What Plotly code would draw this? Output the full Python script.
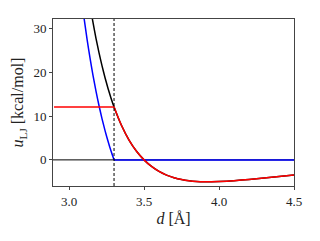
import plotly.graph_objects as go

# distances (Å) for the full LJ curve (black)
d = [3.05, 3.08, 3.10, 3.12, 3.14, 3.16, 3.18, 3.20, 3.22, 3.24, 3.26, 3.28, 3.30,
     3.35, 3.40, 3.45, 3.50, 3.55, 3.60, 3.65, 3.70, 3.75, 3.80, 3.85, 3.90, 3.95,
     4.00, 4.10, 4.20, 4.30, 4.40, 4.50]
u_full = [58.61, 49.67, 44.38, 39.58, 35.21, 31.25, 27.65, 24.38, 21.41, 18.72, 16.28, 14.06, 12.05,
          7.82, 4.52, 1.97, 0.0, -1.50, -2.63, -3.46, -4.06, -4.48, -4.76, -4.92, -4.99, -4.99,
          -4.95, -4.74, -4.45, -4.12, -3.78, -3.45]
# capped LJ (red): flat cap then LJ tail
d_cap_flat = [2.90, 3.30]
u_cap_flat = [12.05, 12.05]
d_cap = [3.30, 3.35, 3.40, 3.45, 3.50, 3.55, 3.60, 3.65, 3.70, 3.75, 3.80, 3.85, 3.90,
         3.95, 4.00, 4.10, 4.20, 4.30, 4.40, 4.50]
u_cap = [12.05, 7.82, 4.52, 1.97, 0.0, -1.50, -2.63, -3.46, -4.06, -4.48, -4.76, -4.92,
         -4.99, -4.99, -4.95, -4.74, -4.45, -4.12, -3.78, -3.45]
# shifted repulsive part (blue)
d_rep = [3.05, 3.08, 3.10, 3.12, 3.14, 3.16, 3.18, 3.20, 3.22, 3.24, 3.26, 3.28, 3.30]
u_rep = [46.56, 37.62, 32.33, 27.53, 23.16, 19.20, 15.60, 12.33, 9.36, 6.67, 4.23, 2.01, 0.0]
d_rep_flat = [3.30, 4.50]
u_rep_flat = [0.0, 0.0]

d_cut = 3.3
x_ticks = [3.0, 3.5, 4.0, 4.5]
y_ticks = [0, 10, 20, 30]

fig = go.Figure()
spl = dict(width=1.5, shape="spline", smoothing=0.6)
fig.add_trace(go.Scatter(x=d, y=u_full, mode="lines", line=dict(color="black", **spl)))
fig.add_trace(go.Scatter(x=d_rep, y=u_rep, mode="lines", line=dict(color="blue", **spl)))
fig.add_trace(go.Scatter(x=d_rep_flat, y=u_rep_flat, mode="lines", line=dict(color="blue", width=1.5)))
fig.add_trace(go.Scatter(x=d_cap_flat, y=u_cap_flat, mode="lines", line=dict(color="red", width=1.5)))
fig.add_trace(go.Scatter(x=d_cap, y=u_cap, mode="lines", line=dict(color="red", **spl)))

fig.add_shape(type="line", xref="paper", yref="y", x0=0, x1=1, y0=0, y1=0,
              line=dict(color="black", width=1), layer="below")
fig.add_shape(type="line", xref="x", yref="paper", x0=d_cut, x1=d_cut, y0=0, y1=1,
              line=dict(color="black", width=1, dash="3px,2px"))

font = dict(family="Liberation Serif", size=13, color="#222")
fig.update_layout(
    width=312, height=233,
    margin=dict(l=45, r=26, t=11, b=55),
    paper_bgcolor="white", plot_bgcolor="white",
    showlegend=False, font=font,
    xaxis=dict(range=[2.893, 4.5], tickvals=x_ticks, ticktext=[f"{v:.1f}" for v in x_ticks],
               showgrid=False, zeroline=False, showline=True, mirror=True, automargin=False,
               linecolor="#444", linewidth=1, ticks="outside", ticklen=3, tickcolor="#444",
               title=dict(text="<i>d</i> [Å]", standoff=5)),
    yaxis=dict(range=[-5.95, 32.1], tickvals=y_ticks, ticktext=[str(v) for v in y_ticks],
               showgrid=False, zeroline=False, showline=True, mirror=True, automargin=False,
               linecolor="#444", linewidth=1, ticks="outside", ticklen=3, tickcolor="#444",
               title=dict(text="<i>u</i><sub>LJ</sub> [kcal/mol]", standoff=5)),
)
fig.write_html("out.html")
